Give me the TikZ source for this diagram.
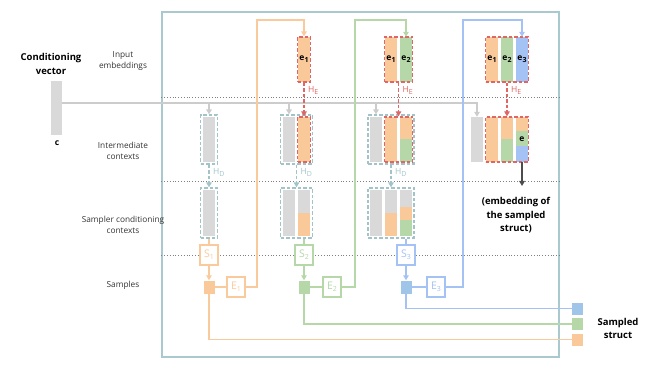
\documentclass[tikz,border=0pt]{standalone}
\usepackage{fontspec}
\setmainfont{Open Sans}
\usetikzlibrary{arrows.meta}
\definecolor{org}{HTML}{F9CB9C}
\definecolor{orgf}{HTML}{F9C99A}
\definecolor{grn}{HTML}{B6D7A8}
\definecolor{blu}{HTML}{A4C2F4}
\definecolor{blus}{HTML}{9FC5E8}
\definecolor{gry}{HTML}{D9D9D9}
\definecolor{gryl}{HTML}{CCCCCC}
\definecolor{redd}{HTML}{E06666}
\definecolor{tealc}{HTML}{A2C4C9}
\definecolor{framec}{HTML}{A9C9CE}
\definecolor{txt}{HTML}{333333}
\begin{document}
\begin{tikzpicture}[x=1pt,y=-1pt,
  arr/.style={-{Triangle[width=5.5pt,length=5pt]}},
  ln/.style={line width=1.5pt},
  bar/.style={rectangle,inner sep=0,draw=none,minimum width=12pt,minimum height=45pt},
  sbar/.style={rectangle,inner sep=0,draw=none,minimum width=12pt,minimum height=46pt},
  tbox/.style={rectangle,inner sep=0,draw=tealc,line width=1.3pt,dash pattern=on 3.5pt off 2pt},
  rbox/.style={rectangle,inner sep=0,draw=redd,line width=1.3pt,dash pattern=on 3.5pt off 2pt},
  tdash/.style={draw=tealc,line width=1.3pt,dash pattern=on 3.5pt off 2pt},
  rdash/.style={draw=redd,line width=1.3pt,dash pattern=on 3.5pt off 2pt},
  sbox/.style={rectangle,inner sep=0,fill=white,line width=1.4pt,minimum width=18pt,minimum height=20pt,font=\fontsize{10.5}{11}\selectfont},
  sq/.style={rectangle,inner sep=0,minimum width=11pt,minimum height=13pt},
  oq/.style={rectangle,inner sep=0,minimum width=11pt,minimum height=12pt},
  lbl/.style={align=center,text=txt,font=\fontsize{8.3}{11}\selectfont},
  big/.style={align=center,text=black,font=\bfseries\fontsize{9.5}{13.5}\selectfont},
  eb/.style={font=\bfseries\fontsize{8.5}{9}\selectfont,text=black,inner sep=0},
  hl/.style={font=\fontsize{8.5}{9}\selectfont,inner sep=0,anchor=west}
]
\useasboundingbox (0,0) rectangle (664,374);
% frame
\node[draw=framec,line width=1.4pt,rectangle,inner sep=0,minimum width=397pt,minimum height=345pt] (frame) at (360.5,184.5) {};
\draw[gray,dotted,line width=0.8pt] (frame.west |- 0,97) -- (frame.east |- 0,97);
\draw[gray,dotted,line width=0.8pt] (frame.west |- 0,181) -- (frame.east |- 0,181);
\draw[gray,dotted,line width=0.8pt] (frame.west |- 0,255) -- (frame.east |- 0,255);

% labels
\node[big] (cvt) at (51,64) {Conditioning\\vector};
\node[lbl] (l1) at (123,61.5) {Input\\embeddings};
\node[lbl] (l2) at (123,150.5) {Intermediate\\contexts};
\node[lbl] (l3) at (123,224.5) {Sampler conditioning\\contexts};
\node[lbl] (l4) at (123,285.5) {Samples};

% conditioning vector
\node[rectangle,inner sep=0,fill=gry,minimum width=11pt,minimum height=54pt] (cv) at (56.5,108) {};
\node[eb] (cl) at (57,143) {c};
\coordinate (cvo) at (62,103);

% ---------- column 1 ----------
\node[bar,fill=gry] (g1i) at (209,139.5) {};
\node[tbox,minimum width=17pt,minimum height=49pt] (i1) at (209,139.5) {};
\node[sbar,fill=gry] (g1s) at (209,213) {};
\node[tbox,minimum width=17pt,minimum height=50pt] (sb1) at (209,213) {};
\node[sbox,draw=org,text=org] (S1) at (209,255) {S\raisebox{-2pt}{\scriptsize 1}};
\node[sq,fill=orgf] (q1) at (209,287) {};
\node[sbox,draw=org,text=org] (E1) at (236,287) {E\raisebox{-2pt}{\scriptsize 1}};

% ---------- column 2 ----------
\node[bar,fill=orgf] (e1) at (304,59.5) {};
\node[rbox,minimum width=13pt,minimum height=45pt] (eb1) at (304,59.5) {};
\node[eb] at (304,59.5) {e\raisebox{-2pt}{\scriptsize 1}};
\node[bar,fill=gry] (g2i) at (289,139.5) {};
\node[bar,fill=orgf] (o2i) at (304,139.5) {};
\node[tbox,minimum width=32pt,minimum height=49pt] (i2) at (296.5,139.5) {};
\node[rbox,minimum width=13pt,minimum height=45pt] (r2) at (304,139.5) {};
\node[sbar,fill=gry] (g2s) at (289,213) {};
\node[sbar,fill=gry] (b2s) at (304,213) {};
\fill[orgf] (298,213) rectangle (310,236);
\node[tbox,minimum width=32pt,minimum height=50pt] (sb2) at (296.5,213) {};
\node[sbox,draw=grn,text=grn] (S2) at (304,255) {S\raisebox{-2pt}{\scriptsize 2}};
\node[sq,fill=grn] (q2) at (304,287) {};
\node[sbox,draw=grn,text=grn] (E2) at (332,287) {E\raisebox{-2pt}{\scriptsize 2}};

% ---------- column 3 ----------
\node[bar,fill=orgf] (e31) at (391,59.5) {};
\node[bar,fill=grn] (e32) at (406,59.5) {};
\node[rbox,minimum width=28pt,minimum height=45pt] (eb2) at (398.5,59.5) {};
\node[eb] at (391,59.5) {e\raisebox{-2pt}{\scriptsize 1}};
\node[eb] at (406,59.5) {e\raisebox{-2pt}{\scriptsize 2}};
\node[bar,fill=gry] (g3i) at (376,139.5) {};
\node[bar,fill=orgf] (o3i) at (391,139.5) {};
\node[bar,fill=orgf] (m3i) at (406,139.5) {};
\fill[grn] (400,139) rectangle (412,162);
\node[tbox,minimum width=46pt,minimum height=49pt] (i3) at (391,139.5) {};
\node[rbox,minimum width=28pt,minimum height=45pt] (r3) at (398.5,139.5) {};
\node[sbar,fill=gry] (g3s) at (376,213) {};
\node[sbar,fill=gry] (a3s) at (391,213) {};
\fill[orgf] (385,213) rectangle (397,236);
\node[sbar,fill=gry] (b3s) at (406,213) {};
\fill[orgf] (400,207) rectangle (412,220);
\fill[grn] (400,220) rectangle (412,236);
\node[tbox,minimum width=46pt,minimum height=50pt] (sb3) at (391,213) {};
\node[sbox,draw=blu,text=blu] (S3) at (406,255) {S\raisebox{-2pt}{\scriptsize 3}};
\node[sq,fill=blus] (q3) at (406,287) {};
\node[sbox,draw=blu,text=blu] (E3) at (436,287) {E\raisebox{-2pt}{\scriptsize 3}};

% ---------- column 4 ----------
\node[bar,fill=orgf] (e41) at (492,59.5) {};
\node[bar,fill=grn] (e42) at (507,59.5) {};
\node[bar,fill=blu] (e43) at (522,59.5) {};
\node[rbox,minimum width=43pt,minimum height=45pt] (eb3) at (507,59.5) {};
\node[eb] at (492,59.5) {e\raisebox{-2pt}{\scriptsize 1}};
\node[eb] at (507,59.5) {e\raisebox{-2pt}{\scriptsize 2}};
\node[eb] at (522,59.5) {e\raisebox{-2pt}{\scriptsize 3}};
\node[bar,fill=gry] (g4i) at (477,139.5) {};
\node[bar,fill=orgf] (a4i) at (492,139.5) {};
\node[bar,fill=orgf] (b4i) at (507,139.5) {};
\fill[grn] (501,139) rectangle (513,162);
\node[bar,fill=orgf] (c4i) at (522,139.5) {};
\fill[grn] (516,131) rectangle (528,146);
\fill[blu] (516,146) rectangle (528,162);
\node[rbox,minimum width=43pt,minimum height=45pt] (r4) at (507,139.5) {};
\node[eb] at (522,139) {e};
\coordinate (emb) at (522,186);
\node[big] (embt) at (516,215.5) {(embedding of\\the sampled\\struct)};

% sampled struct
\node[oq,fill=blus] (ss3) at (577.5,308.5) {};
\node[oq,fill=grn] (ss2) at (577.5,324) {};
\node[oq,fill=orgf] (ss1) at (577.5,339.5) {};
\node[big] (sst) at (618,328.5) {Sampled\\struct};

% ---------- connectors ----------
\draw[gryl,ln,arr] (cvo) -| (g4i.north);
\draw[gryl,ln,arr] (i1.north |- cvo) -- (i1.north);
\draw[gryl,ln,arr] (g2i.north |- cvo) -- (g2i.north |- i2.north);
\draw[gryl,ln,arr] (g3i.north |- cvo) -- (g3i.north |- i3.north);

% H_E
\draw[rdash,arr] (eb1.south) -- (r2.north);
\draw[rdash,arr] (eb2.south) -- (r3.north);
\draw[rdash,arr] (eb3.south) -- (r4.north);
\node[hl,text=redd] at (308,90) {H\raisebox{-2pt}{\scriptsize E}};
\node[hl,text=redd] at (402.5,90) {H\raisebox{-2pt}{\scriptsize E}};
\node[hl,text=redd] at (511,90) {H\raisebox{-2pt}{\scriptsize E}};

% H_D
\draw[tdash,arr] (i1.south) -- (sb1.north);
\draw[tdash,arr] (i2.south) -- (sb2.north);
\draw[tdash,arr] (i3.south) -- (sb3.north);
\node[hl,text=tealc] at (213,172) {H\raisebox{-2pt}{\scriptsize D}};
\node[hl,text=tealc] at (300.5,172) {H\raisebox{-2pt}{\scriptsize D}};
\node[hl,text=tealc] at (395,172) {H\raisebox{-2pt}{\scriptsize D}};

% embedding output
\draw[black!70,ln,arr] (c4i.south) -- (emb);

% samplers
\draw[org,ln] (sb1.south) -- (S1.north);
\draw[grn,ln] (S2.north |- sb2.south) -- (S2.north);
\draw[blu,ln] (S3.north |- sb3.south) -- (S3.north);
\draw[org,ln,arr] (S1.south) -- (q1.north);
\draw[grn,ln,arr] (S2.south) -- (q2.north);
\draw[blu,ln,arr] (S3.south) -- (q3.north);
\draw[org,ln] (q1.east) -- (E1.west);
\draw[grn,ln] (q2.east) -- (E2.west);
\draw[blu,ln] (q3.east) -- (E3.west);

% feedback to embeddings
\coordinate (t1) at (257,20);
\coordinate (t2) at (355,20);
\coordinate (t3) at (463,20);
\draw[org,ln,arr] (E1.east) -| (t1) -| (eb1.north);
\draw[grn,ln,arr] (E2.east) -| (t2) -| (e32.north);
\draw[blu,ln,arr] (E3.east) -| (t3) -| (e43.north);

% outputs
\draw[org,ln] (q1.south) |- (ss1.west);
\draw[grn,ln] (q2.south) |- (ss2.west);
\draw[blu,ln] (q3.south) |- (ss3.west);
\end{tikzpicture}
\end{document}
